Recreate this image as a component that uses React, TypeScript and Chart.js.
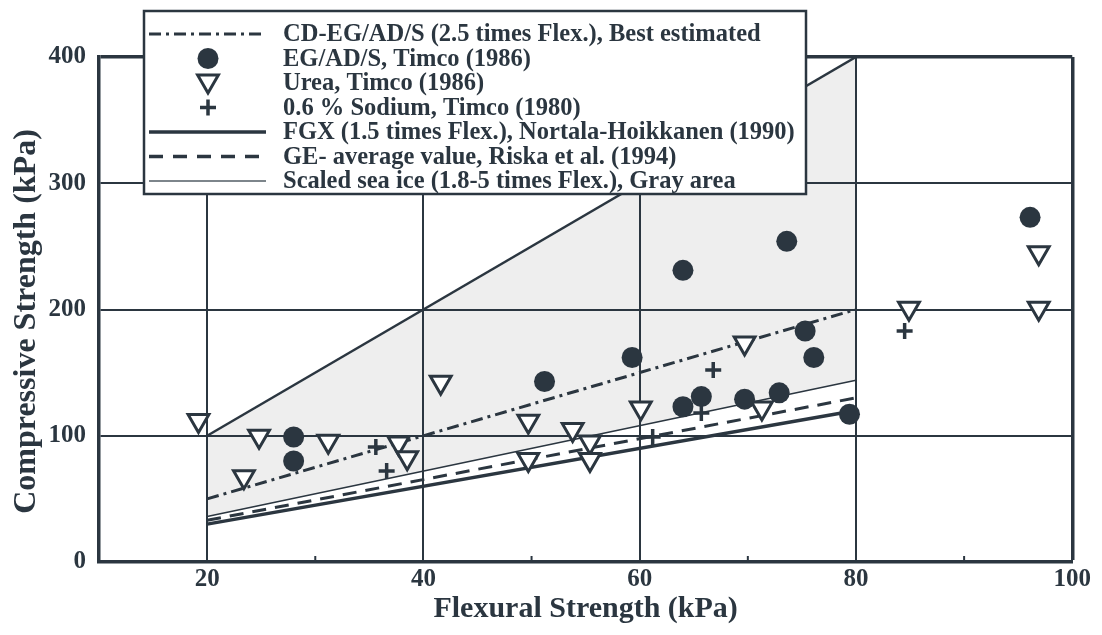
import React, { useEffect, useRef } from 'react';
import { Chart, registerables } from 'chart.js';

Chart.register(...registerables);

const INK = '#2b3640';
const GRAY_FILL = '#eeeeee';
const LEGEND_GRAY = '#7d858b';
const SERIF = '"Liberation Serif", "DejaVu Serif", "Times New Roman", serif';

// Tick values
const xMajorTicks = [20, 40, 60, 80, 100];
const xMinorTicks = [30, 50, 70, 90];
const yTicks = [0, 100, 200, 300, 400];

// EG/AD/S, Timco (1986)
const egX = [28, 28, 51.2, 59.3, 64, 73.6, 75.3, 76.1, 64, 65.7, 69.7, 72.9, 79.4, 96.1];
const egY = [99, 80, 143, 162, 231, 254, 183, 162, 123, 131, 129, 134, 117, 273];

// Urea, Timco (1986)
const ureaX = [19.2, 24.8, 23.4, 31.2, 37.7, 38.5, 41.6, 49.7, 49.7, 53.8, 55.4, 55.4, 60.1, 69.7, 71.3, 84.9, 96.9, 96.9];
const ureaY = [112, 99.6, 67.5, 95.7, 94.3, 82.5, 142.3, 111.5, 81.2, 105, 95, 81.2, 122, 173.4, 122, 201, 245, 201];

// 0.6 % Sodium, Timco (1980)
const sodiumX = [35.6, 36.6, 61.2, 65.7, 66.8, 84.5];
const sodiumY = [91, 72, 99, 118, 152, 183];

// Lines (flexural strength endpoints)
const lineX = [20, 80];
const bestEstY = [50, 200];   // 2.5 x Flex
const fgxY = [30, 120];       // 1.5 x Flex
const geY = [33, 130];        // Riska average
const seaLowY = [36, 144];    // 1.8 x Flex
const seaHighY = [100, 400];  // 5 x Flex

const legendLabels = [
  'CD-EG/AD/S (2.5 times Flex.), Best estimated',
  'EG/AD/S, Timco (1986)',
  'Urea, Timco (1986)',
  '0.6 % Sodium, Timco (1980)',
  'FGX (1.5 times Flex.), Nortala-Hoikkanen (1990)',
  'GE- average value, Riska et al. (1994)',
  'Scaled sea ice (1.8-5 times Flex.), Gray area',
];

const xTitle = 'Flexural Strength (kPa)';
const yTitle = 'Compressive Strength (kPa)';

const pts = (xs: number[], ys: number[]) => xs.map((x, i) => ({ x, y: ys[i] }));

function drawDownTriangle(ctx: CanvasRenderingContext2D, x: number, y: number, r: number) {
  const rad = Math.PI;
  ctx.beginPath();
  for (let k = 0; k < 3; k++) {
    const a = rad + (k * 2 * Math.PI) / 3;
    const px = x + Math.sin(a) * r;
    const py = y - Math.cos(a) * r;
    if (k === 0) ctx.moveTo(px, py);
    else ctx.lineTo(px, py);
  }
  ctx.closePath();
}

const minorTickPlugin = {
  id: 'minorTicks',
  afterDraw(chart: any) {
    const ctx = chart.ctx as CanvasRenderingContext2D;
    const xs = chart.scales.x;
    const bottom = chart.chartArea.bottom;
    ctx.save();
    ctx.strokeStyle = INK;
    ctx.lineWidth = 2;
    xMinorTicks.forEach((v) => {
      const px = xs.getPixelForValue(v);
      ctx.beginPath();
      ctx.moveTo(px, bottom);
      ctx.lineTo(px, bottom - 6);
      ctx.stroke();
    });
    ctx.restore();
  },
};

const legendPlugin = {
  id: 'boxLegend',
  afterDraw(chart: any) {
    const ctx = chart.ctx as CanvasRenderingContext2D;
    const bx = 136, by = 3, bw = 662, bh = 183;
    const rows = [26, 50.5, 75, 99.5, 124, 148.5, 173];
    const sx1 = 141, sx2 = 258, cx = 200, tx = 275;
    ctx.save();
    ctx.fillStyle = '#ffffff';
    ctx.fillRect(bx, by, bw, bh);
    ctx.lineWidth = 2.5;
    ctx.strokeStyle = INK;
    ctx.strokeRect(bx, by, bw, bh);

    const line = (y: number, dash: number[], w: number, color = INK) => {
      ctx.save();
      ctx.setLineDash(dash);
      ctx.lineWidth = w;
      ctx.strokeStyle = color;
      ctx.beginPath();
      ctx.moveTo(sx1, y);
      ctx.lineTo(sx2, y);
      ctx.stroke();
      ctx.restore();
    };

    line(rows[0], [12, 5, 3, 5], 3);
    ctx.fillStyle = INK;
    ctx.beginPath();
    ctx.arc(cx, rows[1], 10.5, 0, Math.PI * 2);
    ctx.fill();
    ctx.lineWidth = 3;
    ctx.strokeStyle = INK;
    ctx.fillStyle = '#fff';
    drawDownTriangle(ctx, cx, rows[2] - 2, 12);
    ctx.fill();
    ctx.stroke();
    ctx.lineWidth = 3.5;
    ctx.beginPath();
    ctx.moveTo(cx - 8, rows[3]);
    ctx.lineTo(cx + 8, rows[3]);
    ctx.moveTo(cx, rows[3] - 8);
    ctx.lineTo(cx, rows[3] + 8);
    ctx.stroke();
    line(rows[4], [], 3.5);
    line(rows[5], [14, 10], 3.5);
    line(rows[6], [], 2, LEGEND_GRAY);

    ctx.fillStyle = INK;
    ctx.font = `bold 24.5px ${SERIF}`;
    ctx.textBaseline = 'middle';
    ctx.textAlign = 'left';
    legendLabels.forEach((t, i) => ctx.fillText(t, tx, rows[i] + 1));
    ctx.restore();
  },
};

export default function App() {
  const canvasRef = useRef<HTMLCanvasElement | null>(null);

  useEffect(() => {
    if (!canvasRef.current) return;
    const tickFont = { family: SERIF, size: 25, weight: 'bold' as const };
    const xTitleFont = { family: SERIF, size: 30, weight: 'bold' as const };
    const yTitleFont = { family: SERIF, size: 32, weight: 'bold' as const };
    const chart = new Chart(canvasRef.current, {
      type: 'line',
      data: {
        datasets: [
          {
            label: legendLabels[1],
            data: pts(egX, egY),
            showLine: false,
            pointStyle: 'circle',
            pointRadius: 10.5,
            pointBackgroundColor: INK,
            pointBorderColor: INK,
            pointBorderWidth: 0,
          },
          {
            label: legendLabels[2],
            data: pts(ureaX, ureaY),
            showLine: false,
            pointStyle: 'triangle',
            pointRotation: 180,
            pointRadius: 12,
            pointBackgroundColor: '#ffffff',
            pointBorderColor: INK,
            pointBorderWidth: 3,
          },
          {
            label: legendLabels[3],
            data: pts(sodiumX, sodiumY),
            showLine: false,
            pointStyle: 'cross',
            pointRadius: 8,
            pointBorderColor: INK,
            pointBorderWidth: 3.5,
          },
          {
            label: legendLabels[0],
            data: pts(lineX, bestEstY),
            borderColor: INK,
            borderWidth: 3,
            borderDash: [12, 5, 3, 5],
            pointRadius: 0,
            fill: false,
          },
          {
            label: legendLabels[4],
            data: pts(lineX, fgxY),
            borderColor: INK,
            borderWidth: 3.5,
            pointRadius: 0,
            fill: false,
          },
          {
            label: legendLabels[5],
            data: pts(lineX, geY),
            borderColor: INK,
            borderWidth: 3,
            borderDash: [14, 9],
            pointRadius: 0,
            fill: false,
          },
          {
            label: 'Scaled sea ice upper',
            data: pts(lineX, seaHighY),
            borderColor: INK,
            borderWidth: 2.5,
            pointRadius: 0,
            fill: '+1',
            backgroundColor: GRAY_FILL,
          },
          {
            label: 'Scaled sea ice lower',
            data: pts(lineX, seaLowY),
            borderColor: INK,
            borderWidth: 1.5,
            pointRadius: 0,
            fill: false,
          },
        ],
      },
      options: {
        animation: false,
        responsive: true,
        maintainAspectRatio: false,
        layout: { padding: { top: 49, right: 21, bottom: 0, left: 0 } },
        plugins: {
          legend: { display: false },
          tooltip: { enabled: false },
          filler: { drawTime: 'beforeDraw' },
        } as any,
        scales: {
          x: {
            type: 'linear',
            min: 10,
            max: 100,
            afterBuildTicks: (s: any) => {
              s.ticks = [10, ...xMinorTicks, ...xMajorTicks].sort((a, b) => a - b).map((v) => ({ value: v }));
            },
            ticks: {
              autoSkip: false,
              maxRotation: 0,
              font: tickFont,
              color: INK,
              padding: 3,
              callback: (v: any) => (xMajorTicks.includes(Number(v)) ? String(v) : ''),
            },
            grid: {
              drawTicks: false,
              color: (c: any) => (c.tick && xMajorTicks.includes(c.tick.value) ? INK : 'rgba(0,0,0,0)'),
              lineWidth: (c: any) => (c.tick && c.tick.value === 100 ? 3.5 : 2),
            },
            border: { display: true, color: INK, width: 3.5 },
            title: {
              display: true,
              text: xTitle,
              font: xTitleFont,
              color: INK,
              padding: { top: 0, bottom: 0 },
            },
            afterFit: (s: any) => {
              s.height = 65;
            },
          },
          y: {
            type: 'linear',
            min: 0,
            max: 400,
            afterBuildTicks: (s: any) => {
              s.ticks = yTicks.map((v) => ({ value: v }));
            },
            ticks: {
              font: tickFont,
              color: INK,
              padding: 13,
            },
            grid: {
              drawTicks: false,
              color: INK,
              lineWidth: (c: any) => (c.tick && c.tick.value === 400 ? 3.5 : 2),
            },
            border: { display: true, color: INK, width: 3.5 },
            title: {
              display: true,
              text: yTitle + '\u00a0\u00a0\u00a0',
              font: yTitleFont,
              color: INK,
              padding: { top: 0, bottom: 0 },
            },
            afterFit: (s: any) => {
              s.width = 91;
            },
          },
        },
      },
      plugins: [minorTickPlugin, legendPlugin],
    });
    return () => chart.destroy();
  }, []);

  return (
    <div style={{ width: '1086px', height: '619px', position: 'relative' }}>
      <canvas ref={canvasRef} />
    </div>
  );
}
